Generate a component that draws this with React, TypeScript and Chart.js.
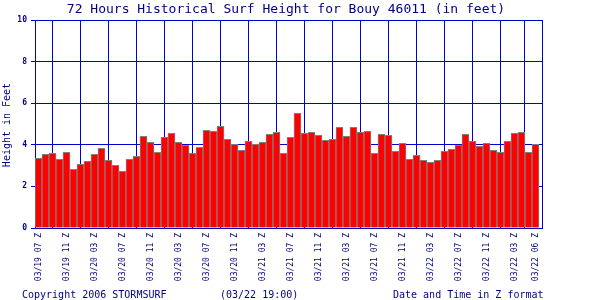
import { useEffect, useRef } from 'react';
import { Chart, registerables } from 'chart.js';

Chart.register(...registerables);

const chartTitle = '72 Hours Historical Surf Height for Bouy 46011 (in feet)';
const yAxisTitle = 'Height in Feet';
const footerLeft = 'Copyright 2006 STORMSURF';
const footerMid = '(03/22 19:00)';
const footerRight = 'Date and Time in Z format';

const surfHeights = [
  3.35, 3.54, 3.59, 3.30, 3.64, 2.82, 3.06, 3.21, 3.54, 3.83,
  3.25, 3.01, 2.72, 3.30, 3.45, 4.41, 4.12, 3.64, 4.36, 4.55,
  4.12, 3.98, 3.59, 3.88, 4.70, 4.65, 4.89, 4.26, 4.02, 3.73,
  4.17, 4.02, 4.12, 4.50, 4.60, 3.59, 4.36, 5.51, 4.55, 4.60,
  4.46, 4.21, 4.26, 4.84, 4.41, 4.84, 4.60, 4.65, 3.59, 4.50,
  4.46, 3.69, 4.07, 3.30, 3.49, 3.25, 3.16, 3.25, 3.69, 3.78,
  3.98, 4.50, 4.17, 3.93, 4.07, 3.73, 3.64, 4.17, 4.55, 4.60,
  3.64, 4.02,
];

const tickIndices = [0, 4, 8, 12, 16, 20, 24, 28, 32, 36, 40, 44, 48, 52, 56, 60, 64, 68, 71];
const tickLabels = [
  '03/19 07 Z', '03/19 11 Z', '03/20 03 Z', '03/20 07 Z', '03/20 11 Z',
  '03/20 03 Z', '03/20 07 Z', '03/20 11 Z', '03/21 03 Z', '03/21 07 Z',
  '03/21 11 Z', '03/21 03 Z', '03/21 07 Z', '03/21 11 Z', '03/22 03 Z',
  '03/22 07 Z', '03/22 11 Z', '03/22 03 Z', '03/22 06 Z',
];
const yTicks = [0, 2, 4, 6, 8, 10];

const MONO = '"DejaVu Sans Mono", "Liberation Mono", monospace';
const TEXT = '#000080';
const GRID = '#0000cc';

const decorPlugin = {
  id: 'decor',
  afterDraw(chart: any) {
    const ctx = chart.ctx;
    const a = chart.chartArea;
    ctx.save();
    // right border
    ctx.strokeStyle = GRID;
    ctx.lineWidth = 1;
    ctx.beginPath();
    ctx.moveTo(a.right + 0.5, a.top);
    ctx.lineTo(a.right + 0.5, a.bottom + 0.5);
    ctx.stroke();

    ctx.fillStyle = TEXT;
    // title
    ctx.font = `13px ${MONO}`;
    ctx.textAlign = 'center';
    ctx.textBaseline = 'alphabetic';
    ctx.fillText(chartTitle, 286, 13);

    // footer
    ctx.font = `10px ${MONO}`;
    ctx.textAlign = 'left';
    ctx.fillText(footerLeft, 22, 298);
    ctx.fillText(footerMid, 220, 298);
    ctx.fillText(footerRight, 393, 298);

    // y axis title
    ctx.translate(7, 125);
    ctx.rotate(-Math.PI / 2);
    ctx.textAlign = 'center';
    ctx.textBaseline = 'middle';
    ctx.fillText(yAxisTitle, 0, 0);
    ctx.restore();
  },
};

export default function App() {
  const ref = useRef<HTMLCanvasElement | null>(null);

  useEffect(() => {
    if (!ref.current) return;
    const chart = new Chart(ref.current, {
      type: 'bar',
      data: {
        datasets: [
          {
            data: surfHeights.map((v, i) => ({ x: i, y: v })),
            backgroundColor: '#ff0000',
            borderColor: '#808080',
            borderWidth: 1,
            barPercentage: 1,
            categoryPercentage: 1,
          } as any,
        ],
      },
      options: {
        responsive: false,
        animation: false,
        devicePixelRatio: 1,
        layout: { padding: { top: 20, right: 58, left: 0, bottom: 0 } },
        plugins: {
          legend: { display: false },
          tooltip: { enabled: false },
          title: { display: false },
        },
        scales: {
          x: {
            type: 'linear',
            min: -0.5,
            max: 71.93,
            offset: false,
            afterBuildTicks: (s: any) => {
              s.ticks = tickIndices.map((v) => ({ value: v }));
            },
            afterFit: (s: any) => {
              s.height = 72;
            },
            ticks: {
              autoSkip: false,
              minRotation: 90,
              maxRotation: 90,
              padding: 5,
              color: TEXT,
              font: { family: MONO, size: 8 },
              callback: (v: any) => {
                const k = tickIndices.indexOf(Number(v));
                return k >= 0 ? tickLabels[k] : '';
              },
            },
            grid: { color: GRID, lineWidth: 1, drawTicks: false },
            border: { color: GRID, width: 1 },
          },
          y: {
            min: 0,
            max: 10,
            afterBuildTicks: (s: any) => {
              s.ticks = yTicks.map((v) => ({ value: v }));
            },
            afterFit: (s: any) => {
              s.width = 35;
            },
            ticks: {
              padding: 4,
              color: TEXT,
              font: { family: MONO, size: 8, weight: 'bold' },
            },
            grid: { color: GRID, lineWidth: 1, drawTicks: true, tickLength: 4 },
            border: { color: GRID, width: 1 },
          },
        },
      } as any,
      plugins: [decorPlugin],
    });
    return () => chart.destroy();
  }, []);

  return (
    <div style={{ position: 'absolute', left: 0, top: 0, width: 600, height: 300, background: '#fff' }}>
      <canvas ref={ref} width={600} height={300} style={{ display: 'block' }} />
    </div>
  );
}
